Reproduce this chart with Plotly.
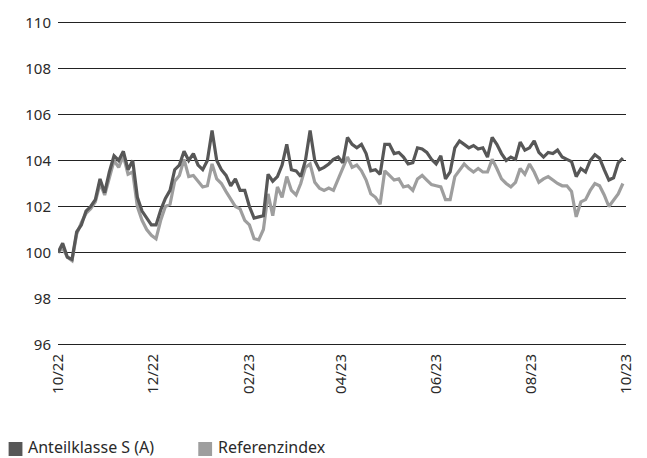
import pandas as pd
import plotly.graph_objects as go

start_date = "2022-10-01"
step = "3D"

fund = [100.0, 100.4, 99.8, 99.7, 100.9, 101.2, 101.8, 102.0, 102.3, 103.2,
        102.6, 103.5, 104.2, 104.0, 104.4, 103.6, 104.0, 102.4, 101.8, 101.5,
        101.2, 101.2, 101.85, 102.35, 102.7, 103.6, 103.8, 104.4, 104.0, 104.3,
        103.8, 103.6, 104.0, 105.3, 104.0, 103.6, 103.35, 102.9, 103.2, 102.7,
        102.7, 102.0, 101.5, 101.55, 101.6, 103.4, 103.1, 103.3, 103.8, 104.7,
        103.6, 103.55, 103.3, 104.0, 105.3, 104.0, 103.6, 103.7, 103.85, 104.05,
        104.15, 103.9, 105.0, 104.7, 104.55, 104.7, 104.3, 103.55, 103.6, 103.4,
        104.7, 104.7, 104.3, 104.35, 104.15, 103.85, 103.9, 104.55, 104.5, 104.35,
        104.05, 103.85, 104.2, 103.2, 103.5, 104.55, 104.85, 104.7, 104.55, 104.65,
        104.5, 104.55, 104.15, 105.0, 104.7, 104.3, 104.0, 104.15, 104.05, 104.8,
        104.45, 104.55, 104.85, 104.35, 104.15, 104.35, 104.3, 104.45, 104.15, 104.05,
        103.95, 103.3, 103.65, 103.5, 104.0, 104.25, 104.1, 103.6, 103.15, 103.25,
        103.9, 104.1]

ref = [100.0, 100.2, 99.8, 99.65, 100.8, 101.3, 101.7, 101.9, 102.2, 103.0,
       102.5, 103.3, 104.0, 103.7, 104.2, 103.4, 103.5, 102.0, 101.4, 101.0,
       100.75, 100.6, 101.4, 102.0, 102.1, 103.1, 103.35, 104.05, 103.3, 103.35,
       103.1, 102.85, 102.9, 103.85, 103.2, 103.0, 102.65, 102.35, 102.0, 101.9,
       101.4, 101.2, 100.6, 100.55, 101.0, 102.55, 101.6, 102.85, 102.4, 103.3,
       102.7, 102.5, 103.0, 103.7, 103.85, 103.05, 102.8, 102.7, 102.8, 102.7,
       103.2, 103.7, 104.15, 103.7, 103.8, 103.55, 103.15, 102.55, 102.4, 102.1,
       103.55, 103.35, 103.15, 103.2, 102.85, 102.9, 102.7, 103.2, 103.35, 103.15,
       102.95, 102.9, 102.85, 102.3, 102.3, 103.3, 103.55, 103.85, 103.65, 103.5,
       103.65, 103.5, 103.5, 104.05, 103.65, 103.2, 103.0, 102.85, 103.05, 103.65,
       103.4, 103.85, 103.5, 103.05, 103.2, 103.3, 103.15, 103.0, 102.9, 102.9,
       102.65, 101.55, 102.2, 102.3, 102.7, 103.0, 102.9, 102.5, 102.0, 102.25,
       102.55, 103.0]

tick_dates = ["2022-10-01", "2022-12-01", "2023-02-01", "2023-04-01",
              "2023-06-01", "2023-08-01", "2023-10-01"]
tick_labels = ["10/22", "12/22", "02/23", "04/23", "06/23", "08/23", "10/23"]
y_ticks = [96, 98, 100, 102, 104, 106, 108, 110]

series_names = ["Anteilklasse S (A)", "Referenzindex"]
fund_color = "#575757"
ref_color = "#9e9e9e"

dates = pd.date_range(start_date, periods=len(fund), freq=step)

W, H = 647, 458
ML, MR, MT, MB = 58, 14, 21, 112
PW, PH = W - ML - MR, H - MT - MB


def px_x(p):
    return (p - ML) / PW


def px_y(p):
    return (H - MB - p) / PH


fig = go.Figure()
fig.add_trace(go.Scatter(x=dates, y=ref, mode="lines", name=series_names[1],
                         line=dict(color=ref_color, width=3.2), showlegend=False))
fig.add_trace(go.Scatter(x=dates, y=fund, mode="lines", name=series_names[0],
                         line=dict(color=fund_color, width=3.2), showlegend=False))

tick_font = dict(family="Noto Sans, Open Sans, sans-serif", size=15, color="#2a2a2a")
legend_font = dict(family="Noto Sans, Open Sans, sans-serif", size=16, color="#2a2a2a")

# manual legend (square swatches + labels) below the chart
legend_items = [(series_names[0], fund_color, 8), (series_names[1], ref_color, 200)]
shapes, annotations = [], []
for name, col, left in legend_items:
    shapes.append(dict(type="rect", xref="paper", yref="paper",
                       x0=px_x(left), x1=px_x(left + 14),
                       y0=px_y(456), y1=px_y(442),
                       fillcolor=col, line=dict(width=0)))
    annotations.append(dict(xref="paper", yref="paper", x=px_x(left + 19), y=px_y(447),
                            xanchor="left", yanchor="middle", text=name,
                            showarrow=False, font=legend_font, borderpad=0))

fig.update_layout(
    width=W, height=H,
    margin=dict(l=ML, r=MR, t=MT, b=MB),
    paper_bgcolor="white", plot_bgcolor="white",
    font=tick_font,
    showlegend=False,
    shapes=shapes,
    annotations=annotations,
)
fig.update_xaxes(
    type="date", range=[tick_dates[0], tick_dates[-1]],
    tickvals=tick_dates, ticktext=tick_labels, tickangle=-90,
    showgrid=False, zeroline=False, showline=False, ticks="",
    ticklabelstandoff=4, tickfont=tick_font,
)
fig.update_yaxes(
    range=[95.94, 110.06], tickvals=y_ticks, showgrid=True,
    gridcolor="#222222", gridwidth=1.3, zeroline=False, showline=False,
    ticks="", ticklabelstandoff=6, tickfont=tick_font,
)

fig.write_html(
    "out.html",
    config={"displayModeBar": False},
    post_script=("document.body.style.margin='0';"
                 "document.body.style.overflow='hidden';"
                 "document.documentElement.style.overflow='hidden';"),
)
